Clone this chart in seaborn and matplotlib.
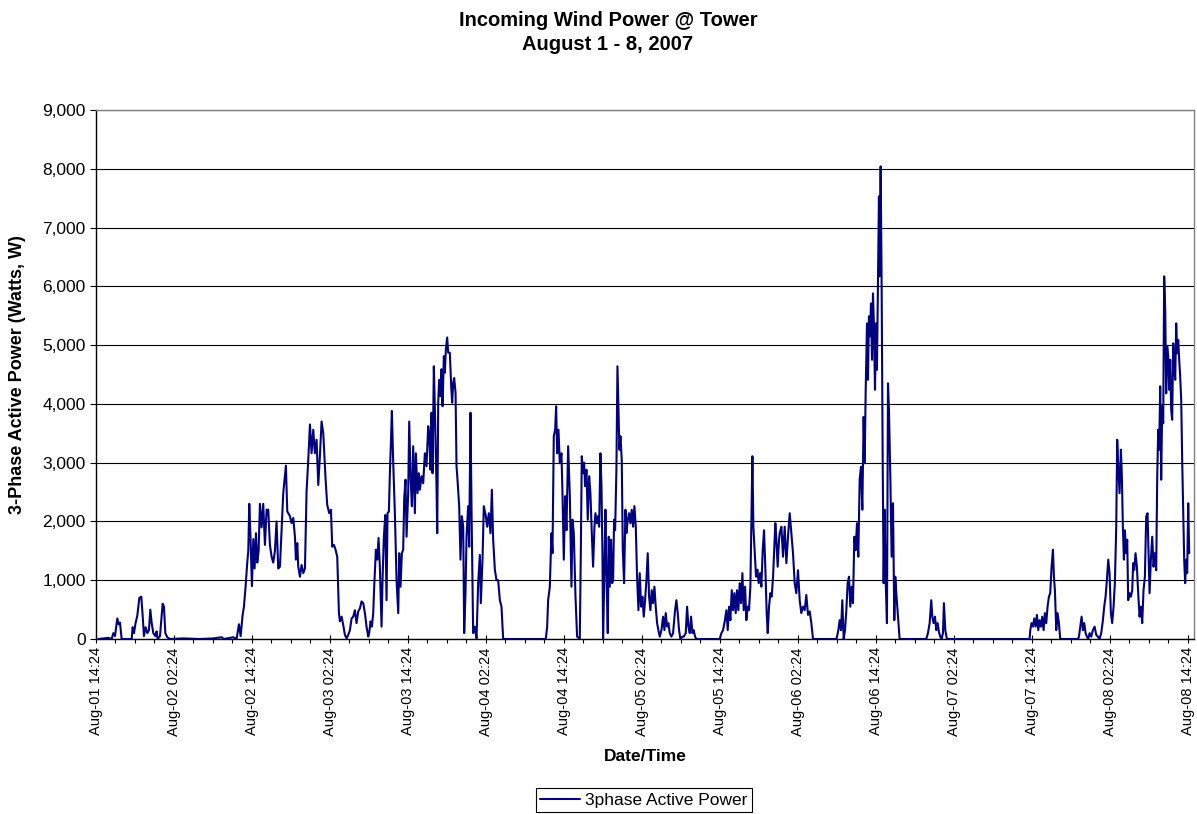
import matplotlib
matplotlib.use("Agg")
import matplotlib.pyplot as plt
import matplotlib.dates as mdates
import matplotlib.ticker as mticker
import pandas as pd
import seaborn as sns

# Logger readings: (hours after Aug-01 14:24, 3-phase active power in W)
aug01 = [(0.36, 0), (1.13, 10), (1.90, 20), (2.41, 0), (2.67, 100), (2.92, 50), (3.28, 350),
         (3.49, 250), (3.69, 280), (3.95, 0), (4.72, 0), (5.49, 0), (5.64, 200), (5.85, 100),
         (6.05, 250), (6.36, 400), (6.67, 700), (6.97, 720), (7.18, 400), (7.38, 50), (7.64, 200),
         (7.90, 100), (8.15, 150), (8.36, 500), (8.56, 280), (8.82, 100), (9.13, 50), (9.33, 130),
         (9.49, 0)]

aug02 = [(9.85, 50), (10.26, 600), (10.46, 550), (10.67, 100), (10.97, 30), (11.38, 0), (13.44, 10),
         (16.0, 0), (18.05, 10), (19.33, 30), (19.69, 0), (21.13, 30), (21.64, 0), (22.0, 250),
         (22.26, 50), (22.56, 400), (22.77, 550), (23.03, 900), (23.28, 1300), (23.44, 1500),
         (23.59, 2300), (23.79, 1700), (24.0, 900), (24.21, 1700), (24.41, 1200), (24.62, 1800),
         (24.82, 1300), (25.03, 1500), (25.23, 2300), (25.49, 1900), (25.74, 2300), (26.0, 1600),
         (26.26, 2200), (26.51, 2200), (26.77, 1600), (27.03, 1400), (27.28, 1300), (27.54, 1500),
         (27.79, 2000), (28.05, 1200), (28.31, 1230), (28.57, 1860), (28.82, 2480), (29.23, 2950),
         (29.44, 2170), (29.85, 2090), (30.10, 1970), (30.36, 2060), (30.62, 1740), (30.77, 1350),
         (30.98, 1630), (31.13, 1230), (31.39, 1060), (31.64, 1260), (31.90, 1120), (32.16, 1200),
         (32.41, 2510), (32.67, 3050), (32.93, 3650), (33.18, 3160), (33.44, 3560)]

aug03 = [(33.69, 3160), (33.95, 3390), (34.21, 2620), (34.46, 3110), (34.72, 3700), (34.98, 3500),
         (35.13, 3160), (35.34, 2710), (35.59, 2280), (35.90, 2140), (36.16, 2200), (36.36, 1570),
         (36.62, 1600), (36.87, 1520), (37.13, 1400), (37.39, 440), (37.54, 300), (37.80, 380),
         (38.05, 240), (38.31, 70), (38.57, 10), (38.82, 70), (39.08, 150), (39.34, 350), (39.59, 380),
         (39.85, 490), (40.10, 270), (40.36, 470), (40.62, 520), (40.87, 640), (41.13, 610),
         (41.39, 440), (41.64, 210), (41.90, 40), (42.05, 100), (42.26, 300), (42.46, 210),
         (42.67, 440), (42.82, 890), (43.08, 1520), (43.28, 1350), (43.49, 1720), (43.69, 1230),
         (43.95, 210), (44.10, 1000), (44.31, 1740), (44.52, 2110), (44.72, 660), (44.87, 2140),
         (45.08, 2170), (45.23, 2820), (45.39, 3330), (45.54, 3880), (45.75, 2990), (46.00, 2140),
         (46.26, 1000), (46.52, 440), (46.67, 1460), (46.87, 890), (47.08, 1460), (47.28, 1520),
         (47.44, 2400), (47.64, 2710), (47.80, 1740), (48.05, 2480), (48.21, 3700), (48.41, 2770),
         (48.62, 2260), (48.82, 3280), (49.08, 2140), (49.23, 3160), (49.49, 2480), (49.69, 2820),
         (49.85, 2540), (50.10, 2770), (50.36, 2650), (50.62, 3160), (50.87, 2940), (51.13, 3620),
         (51.28, 3500), (51.49, 2880), (51.64, 3850), (51.80, 2820), (52.00, 4640), (52.16, 3900),
         (52.41, 2600), (52.52, 1800), (52.67, 4020), (52.82, 4410), (53.03, 4130), (53.18, 4590),
         (53.34, 3960), (53.54, 4810), (53.69, 4530), (53.85, 4930), (54.05, 5130), (54.21, 4870),
         (54.46, 4870), (54.67, 4300), (54.82, 4020), (54.98, 4360), (55.13, 4440), (55.34, 4190),
         (55.49, 2940), (55.64, 2710), (55.90, 2260), (56.10, 1350), (56.31, 2090), (56.52, 1910),
         (56.67, 100), (56.87, 780), (57.03, 1740), (57.28, 2260), (57.44, 1570)]

aug04 = [(57.64, 3850), (57.80, 2200), (58.05, 100), (58.31, 210), (58.57, 10), (58.82, 950),
         (59.08, 1430), (59.23, 610), (59.49, 1350), (59.69, 2260), (60.00, 2090), (60.21, 1910),
         (60.46, 2140), (60.72, 1800), (60.93, 2540), (61.13, 1690), (61.39, 1180), (61.64, 1000),
         (61.90, 1000), (62.16, 660), (62.41, 550), (62.67, 0), (66.0, 0), (69.23, 0), (69.44, 210),
         (69.59, 660), (69.85, 890), (70.10, 1800), (70.26, 1460), (70.46, 3450), (70.67, 3560),
         (70.82, 3960), (70.98, 3160), (71.18, 3560), (71.39, 2990), (71.64, 3160), (71.80, 2480),
         (72.00, 1350), (72.21, 2430), (72.41, 1850), (72.67, 3280), (72.93, 2430), (73.18, 890),
         (73.34, 2030), (73.54, 1800), (73.80, 720), (74.05, 40), (74.46, 0), (74.62, 1460),
         (74.77, 3110), (74.98, 2820), (75.13, 3000), (75.28, 2600), (75.49, 2880), (75.69, 2030),
         (75.90, 2770), (76.10, 2480), (76.31, 1800), (76.51, 1230), (76.72, 1910), (76.87, 2140),
         (77.08, 1970), (77.28, 2090), (77.44, 1910), (77.64, 3160), (77.80, 2600), (77.95, 1460),
         (78.05, 0), (78.21, 890), (78.41, 2200), (78.56, 1180), (78.77, 100), (78.92, 1740),
         (79.08, 890), (79.28, 1690), (79.44, 950), (79.59, 1000), (79.74, 2030), (79.90, 1850),
         (80.10, 2880), (80.26, 4640), (80.41, 3960), (80.56, 3220), (80.72, 3450), (80.92, 3050),
         (81.08, 1520), (81.28, 950), (81.49, 2200)]

aug05 = [(81.64, 1800), (81.85, 2030), (82.05, 2140), (82.26, 1970), (82.46, 2200), (82.67, 1910),
         (82.87, 2260), (83.08, 1910), (83.28, 1060), (83.49, 490), (83.69, 1120), (83.90, 550),
         (84.10, 720), (84.31, 380), (84.51, 660), (84.72, 1000), (84.92, 1460), (85.13, 720),
         (85.33, 490), (85.54, 830), (85.74, 610), (85.95, 890), (86.15, 550), (86.36, 270),
         (86.56, 150), (86.77, 40), (87.03, 150), (87.28, 380), (87.49, 150), (87.69, 440),
         (87.90, 210), (88.10, 270), (88.31, 100), (88.56, 40), (88.82, 100), (89.13, 490),
         (89.33, 660), (89.54, 440), (89.74, 150), (89.95, 0), (90.26, 40), (90.46, 40), (90.77, 100),
         (90.98, 550), (91.18, 210), (91.39, 100), (91.59, 380), (91.80, 100), (92.00, 150),
         (92.21, 40), (92.41, 0), (96.0, 0), (96.26, 100), (96.51, 150), (96.77, 300), (97.03, 490),
         (97.23, 150), (97.44, 550), (97.64, 320), (97.85, 830), (98.05, 490), (98.26, 780),
         (98.46, 440), (98.67, 830), (98.87, 490), (99.08, 950), (99.28, 610), (99.49, 1120),
         (99.69, 490), (99.90, 890), (100.10, 320), (100.31, 550), (100.51, 490), (100.72, 890),
         (100.87, 1910), (101.03, 3110), (101.18, 1910), (101.39, 1460), (101.59, 1060),
         (101.80, 1180), (102.00, 950), (102.21, 1120), (102.41, 890), (102.62, 1520), (102.82, 1850),
         (103.03, 1180), (103.23, 440), (103.39, 100), (103.59, 550), (103.80, 780), (104.0, 720),
         (104.21, 1060), (104.36, 1460), (104.56, 1970), (104.72, 1690), (104.92, 1230),
         (105.13, 1690), (105.23, 1800), (105.49, 1910)]

aug06 = [(105.74, 1400), (106.0, 1910), (106.26, 1290), (106.51, 1740), (106.77, 2140), (107.02, 1800),
         (107.28, 1460), (107.54, 950), (107.79, 780), (108.05, 1170), (108.31, 660), (108.56, 440),
         (108.82, 550), (109.08, 490), (109.33, 750), (109.59, 410), (109.85, 470), (110.10, 270),
         (110.36, 0), (113.95, 0), (114.05, 40), (114.26, 150), (114.46, 320), (114.67, 150),
         (114.87, 660), (115.08, 0), (115.28, 150), (115.49, 490), (115.69, 950), (115.90, 1060),
         (116.10, 550), (116.31, 890), (116.51, 610), (116.72, 1740), (116.92, 1510), (117.13, 1970),
         (117.33, 1400), (117.54, 2710), (117.74, 2930), (117.95, 2200), (118.15, 3780),
         (118.31, 2990), (118.46, 4180), (118.67, 5370), (118.82, 4410), (118.97, 5490),
         (119.13, 5150), (119.28, 5710), (119.44, 4750), (119.59, 5880), (119.74, 5320),
         (119.90, 4240), (120.05, 5370), (120.20, 4580), (120.36, 6050), (120.51, 7530),
         (120.61, 6170), (120.77, 8040), (120.92, 6050), (121.08, 3100), (121.23, 950),
         (121.38, 2200), (121.54, 1000), (121.74, 270), (121.90, 4350), (122.05, 3900),
         (122.26, 2760), (122.46, 1400), (122.67, 2310), (122.87, 320), (123.02, 1060),
         (123.18, 780), (123.44, 380), (123.69, 0), (127.79, 0), (128.05, 100), (128.31, 270),
         (128.56, 660), (128.72, 380), (128.92, 270), (129.13, 380), (129.33, 150), (129.54, 270)]

aug07 = [(129.74, 120), (129.95, 40), (130.15, 0), (130.36, 100), (130.51, 610), (130.72, 150),
         (130.97, 0), (143.69, 0), (143.80, 150), (144.0, 270), (144.21, 210), (144.41, 350),
         (144.62, 210), (144.82, 410), (145.03, 150), (145.23, 320), (145.44, 210), (145.64, 380),
         (145.85, 150), (146.05, 440), (146.26, 270), (146.46, 550), (146.67, 720), (146.87, 780),
         (147.08, 1230), (147.29, 1520), (147.44, 1060), (147.59, 830), (147.80, 150), (148.0, 440),
         (148.21, 270), (148.41, 0), (151.13, 0), (151.29, 40), (151.49, 210), (151.70, 380),
         (151.90, 150), (152.11, 270), (152.31, 100), (152.52, 40), (152.72, 0), (152.93, 100),
         (153.18, 40), (153.44, 150)]

aug08 = [(153.70, 210), (153.95, 70), (154.21, 40), (154.46, 0), (154.72, 100), (154.98, 320),
         (155.18, 550), (155.39, 720), (155.59, 1000), (155.80, 1350), (156.0, 1120), (156.21, 440),
         (156.41, 270), (156.62, 550), (156.82, 950), (157.03, 1910), (157.18, 3390), (157.34, 2930),
         (157.54, 2480), (157.75, 3220), (157.90, 2760), (158.05, 1910), (158.21, 1350),
         (158.36, 1850), (158.57, 1460), (158.72, 1690), (158.87, 660), (159.08, 780), (159.29, 720),
         (159.49, 830), (159.64, 1290), (159.80, 1170), (160.0, 1460), (160.21, 1230), (160.41, 780),
         (160.62, 380), (160.82, 550), (161.03, 270), (161.23, 830), (161.44, 1060), (161.64, 2080),
         (161.85, 2140), (162.0, 1460), (162.16, 780), (162.36, 1350), (162.57, 1740),
         (162.77, 1230), (162.98, 1460), (163.18, 1170), (163.34, 2760), (163.49, 3560),
         (163.64, 3220), (163.80, 4300), (163.95, 2710), (164.11, 3960), (164.26, 3670),
         (164.41, 6170), (164.57, 5600), (164.72, 4180), (164.87, 4980), (165.03, 4810),
         (165.18, 4240), (165.34, 4750), (165.49, 3900), (165.64, 3730), (165.80, 5030),
         (165.95, 4640), (166.11, 4410), (166.26, 5370), (166.41, 4860), (166.57, 5090),
         (166.72, 4750), (166.87, 4470), (167.03, 4070), (167.18, 3050), (167.34, 2140),
         (167.49, 1350), (167.64, 950), (167.80, 1350), (167.95, 1120), (168.11, 2310),
         (168.26, 1460)]

START = pd.Timestamp("2007-08-01 14:24")
SERIES = "3phase Active Power"

readings = aug01 + aug02 + aug03 + aug04 + aug05 + aug06 + aug07 + aug08
hours = [h for h, _ in readings]
watts = [w for _, w in readings]
df = pd.DataFrame({
    "Date/Time": START + pd.to_timedelta(hours, unit="h"),
    SERIES: watts,
})

sns.set_theme(style="white")
plt.rcParams["font.family"] = ["Liberation Sans", "DejaVu Sans"]
plt.rcParams.update({
    "text.color": "black",
    "axes.labelcolor": "black",
    "xtick.color": "black",
    "ytick.color": "black",
})

W, H = 1197, 814
fig = plt.figure(figsize=(W / 100, H / 100), dpi=100)
ax = fig.add_axes([96 / W, 1 - 639 / H, (1194 - 96) / W, (639 - 110) / H])

sns.lineplot(data=df, x="Date/Time", y=SERIES, ax=ax, color="#000080",
             linewidth=1.5, estimator=None, sort=False, label=SERIES)

ax.set_xlim(START, START + pd.Timedelta(hours=169))
ax.set_ylim(0, 9000)

# horizontal gridlines at every 1,000 W
ax.set_yticks(range(0, 9001, 1000))
ax.yaxis.set_major_formatter(mticker.StrMethodFormatter("{x:,.0f}"))
ax.yaxis.grid(True, color="black", linewidth=0.8)
ax.xaxis.grid(False)

major = pd.date_range(START, periods=15, freq="12h")
minor = pd.date_range(START, START + pd.Timedelta(hours=168), freq="3h")
ax.set_xticks(major)
ax.set_xticks(minor, minor=True)
ax.xaxis.set_major_formatter(mdates.DateFormatter("%b-%d %H:%M"))

ax.tick_params(axis="y", which="major", direction="out", length=4.5, width=0.8,
               color="black", labelcolor="black", labelsize=12.5, pad=3, left=True)
ax.tick_params(axis="x", which="major", direction="inout", length=6, width=0.8,
               color="black", labelcolor="black", labelsize=10.5, pad=3, bottom=True,
               labelrotation=90)
ax.tick_params(axis="x", which="minor", direction="out", length=3, width=0.8,
               color="black", bottom=True)

for side in ("left", "bottom"):
    ax.spines[side].set_color("black")
    ax.spines[side].set_linewidth(1.0)
for side in ("top", "right"):
    ax.spines[side].set_color("#808080")
    ax.spines[side].set_linewidth(1.0)

ax.set_ylabel("3-Phase Active Power (Watts, W)", fontsize=13, fontweight="bold", color="black")
ax.yaxis.set_label_coords((26 - 96) / (1194 - 96), 0.5)
ax.set_xlabel("Date/Time", fontsize=12.5, fontweight="bold", color="black")
ax.xaxis.set_label_coords(0.5, -(749 - 639) / (639 - 110))

fig.text(608 / W, 1 - 20 / H, "Incoming Wind Power @ Tower", ha="center", va="center",
         fontsize=14.5, fontweight="bold", color="black")
fig.text(608 / W, 1 - 44 / H, "August 1 - 8, 2007", ha="center", va="center",
         fontsize=14.5, fontweight="bold", color="black")

leg = ax.legend(loc="center", bbox_to_anchor=(644 / W, 1 - 800 / H),
                bbox_transform=fig.transFigure, frameon=True, fancybox=False,
                edgecolor="black", framealpha=1, fontsize=12.5, handlelength=2.3,
                handletextpad=0.3, borderpad=0.25, borderaxespad=0)
leg.get_frame().set_linewidth(0.8)
for txt in leg.get_texts():
    txt.set_color("black")

fig.savefig("out.png", dpi=100)
